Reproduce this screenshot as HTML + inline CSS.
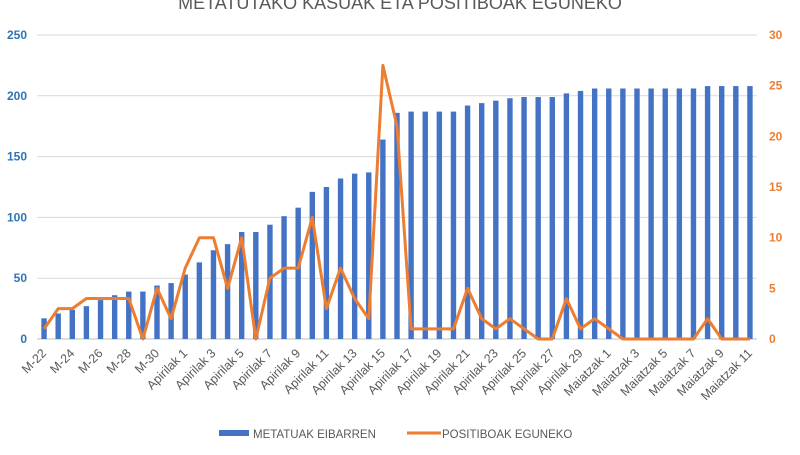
<!DOCTYPE html>
<html><head><meta charset="utf-8"><style>
body{margin:0;background:#fff;}
svg text{font-family:"Liberation Sans",sans-serif;}
</style></head><body>
<svg id="chart" width="800" height="450" xmlns="http://www.w3.org/2000/svg">
<text x="400" y="9" text-anchor="middle" font-size="18" fill="#595959">METATUTAKO KASUAK ETA POSITIBOAK EGUNEKO</text>
<g id="grid"></g><g id="bars"></g><g id="line"></g><g id="axes"></g>
<g>
<rect x="219" y="430" width="30" height="6" fill="#4472c4"/>
<text x="253" y="438" font-size="11.5" fill="#595959">METATUAK EIBARREN</text>
<line x1="407" y1="433" x2="441" y2="433" stroke="#ed7d31" stroke-width="3"/>
<text x="442" y="438" font-size="11.5" fill="#595959">POSITIBOAK EGUNEKO</text>
</g>
</svg>
<script>
const categories=[];
for(let d=22;d<=31;d++)categories.push('M-'+d);
for(let d=1;d<=30;d++)categories.push('Apirilak '+d);
for(let d=1;d<=11;d++)categories.push('Maiatzak '+d);
const metatuak=[17,21,24,27,32,36,39,39,44,46,53,63,73,78,88,88,94,101,108,121,125,132,136,137,164,186,187,187,187,187,192,194,196,198,199,199,199,202,204,206,206,206,206,206,206,206,206,208,208,208,208];
const positiboak=[1,3,3,4,4,4,4,0,5,2,7,10,10,5,10,0,6,7,7,12,3,7,4,2,27,21,1,1,1,1,5,2,1,2,1,0,0,4,1,2,1,0,0,0,0,0,0,2,0,0,0];
const leftTicks=[0,50,100,150,200,250];
const rightTicks=[0,5,10,15,20,25,30];
const NS='http://www.w3.org/2000/svg';
const X0=37,X1=757,Y0=339,Y1=35;
const band=(X1-X0)/categories.length;
const xC=i=>X0+band*(i+0.5);
const yL=v=>Y0-(v/250)*(Y0-Y1);
const yR=v=>Y0-(v/30)*(Y0-Y1);
function mk(tag,attrs,parent){const e=document.createElementNS(NS,tag);for(const k in attrs)e.setAttribute(k,attrs[k]);parent.appendChild(e);return e;}
const grid=document.getElementById('grid'),bars=document.getElementById('bars'),line=document.getElementById('line'),axes=document.getElementById('axes');
leftTicks.forEach(v=>{
 const g=mk('line',{x1:X0,x2:X1,y1:yL(v),y2:yL(v),stroke:v===0?'#bfbfbf':'#d9d9d9','stroke-width':1},grid);
 
 
 const t=mk('text',{x:27,y:yL(v)+4,'text-anchor':'end','font-size':12,'font-weight':'bold',fill:'#2e75b6'},axes);
 t.textContent=v;
 
 
});
rightTicks.forEach(v=>{
 const t=mk('text',{x:769,y:yR(v)+4,'font-size':12,'font-weight':'bold',fill:'#ed7d31'},axes);
 t.textContent=v;
 
 
});
metatuak.forEach((v,i)=>{
 const r=mk('rect',{x:xC(i)-2.7,y:yL(v),width:5.4,height:Y0-yL(v),fill:'#4472c4'},bars);
 
 
});
const pts=positiboak.map((v,i)=>xC(i).toFixed(1)+','+yR(v).toFixed(1)).join(' ');
const pl=mk('polyline',{points:pts,fill:'none',stroke:'#ed7d31','stroke-width':3,'stroke-linejoin':'round'},line);


categories.forEach((c,i)=>{
 if(i%2)return;
 const x=xC(i)+3,y=Y0+15;
 const t=mk('text',{x:x,y:y,'text-anchor':'end','font-size':12.5,fill:'#595959',transform:`rotate(-45 ${x} ${y})`},axes);
 t.textContent=c;
 
 
});
</script>
</body></html>
